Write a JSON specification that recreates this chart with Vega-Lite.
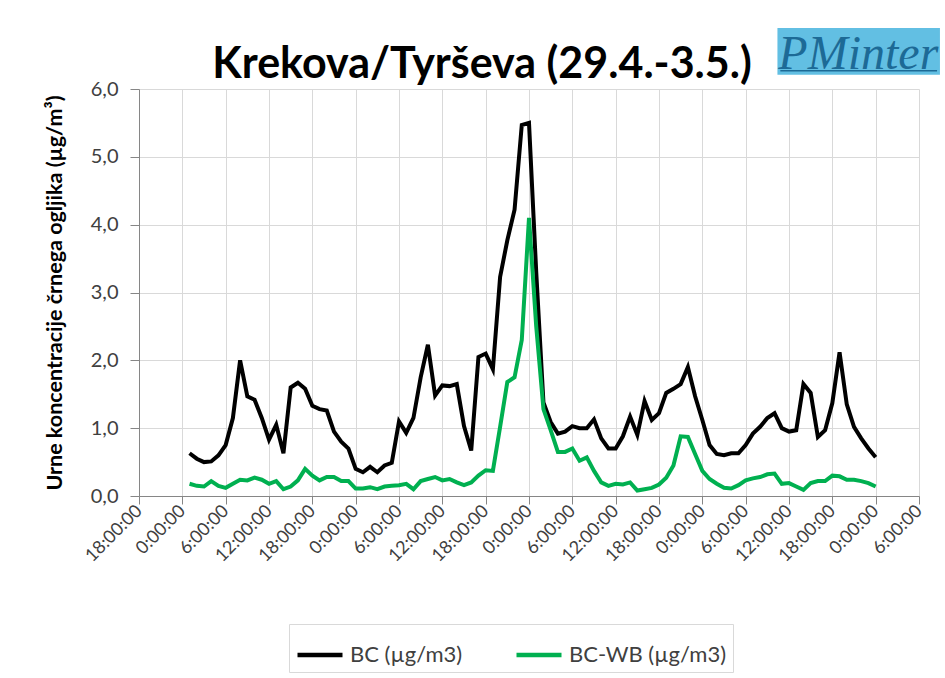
{
  "$schema": "https://vega.github.io/schema/vega-lite/v6.json",
  "width": 780,
  "height": 407,
  "autosize": {"type": "none"},
  "padding": {"left": 139, "top": 89, "right": 26, "bottom": 182},
  "background": "white",
  "title": {"text": "Krekova/Tyrševa (29.4.-3.5.)", "font": "Lato", "fontSize": 43, "fontWeight": "bold", "color": "#000000", "anchor": "middle", "dx": -47, "dy": 64, "offset": 5},
  "config": {"view": {"stroke": null}},
  "layer": [
    {
      "data": {"values": [
        {"h": 1, "BC": 0.63, "WB": 0.18}, {"h": 2, "BC": 0.55, "WB": 0.15}, {"h": 3, "BC": 0.50, "WB": 0.14},
        {"h": 4, "BC": 0.51, "WB": 0.22}, {"h": 5, "BC": 0.60, "WB": 0.15}, {"h": 6, "BC": 0.75, "WB": 0.12},
        {"h": 7, "BC": 1.15, "WB": 0.18}, {"h": 8, "BC": 2.00, "WB": 0.24}, {"h": 9, "BC": 1.47, "WB": 0.23},
        {"h": 10, "BC": 1.42, "WB": 0.27}, {"h": 11, "BC": 1.15, "WB": 0.24}, {"h": 12, "BC": 0.83, "WB": 0.18},
        {"h": 13, "BC": 1.05, "WB": 0.22}, {"h": 14, "BC": 0.63, "WB": 0.10}, {"h": 15, "BC": 1.60, "WB": 0.14},
        {"h": 16, "BC": 1.67, "WB": 0.23}, {"h": 17, "BC": 1.58, "WB": 0.40}, {"h": 18, "BC": 1.33, "WB": 0.30},
        {"h": 19, "BC": 1.28, "WB": 0.23}, {"h": 20, "BC": 1.26, "WB": 0.28}, {"h": 21, "BC": 0.95, "WB": 0.28},
        {"h": 22, "BC": 0.80, "WB": 0.22}, {"h": 23, "BC": 0.70, "WB": 0.22}, {"h": 24, "BC": 0.40, "WB": 0.11},
        {"h": 25, "BC": 0.35, "WB": 0.11}, {"h": 26, "BC": 0.43, "WB": 0.13}, {"h": 27, "BC": 0.35, "WB": 0.10},
        {"h": 28, "BC": 0.45, "WB": 0.14}, {"h": 29, "BC": 0.49, "WB": 0.15}, {"h": 30, "BC": 1.10, "WB": 0.16},
        {"h": 31, "BC": 0.93, "WB": 0.18}, {"h": 32, "BC": 1.15, "WB": 0.10}, {"h": 33, "BC": 1.75, "WB": 0.22},
        {"h": 34, "BC": 2.23, "WB": 0.25}, {"h": 35, "BC": 1.48, "WB": 0.28}, {"h": 36, "BC": 1.63, "WB": 0.23},
        {"h": 37, "BC": 1.62, "WB": 0.25}, {"h": 38, "BC": 1.65, "WB": 0.20}, {"h": 39, "BC": 1.03, "WB": 0.16},
        {"h": 40, "BC": 0.67, "WB": 0.20}, {"h": 41, "BC": 2.05, "WB": 0.30}, {"h": 42, "BC": 2.10, "WB": 0.38},
        {"h": 43, "BC": 1.87, "WB": 0.37}, {"h": 44, "BC": 3.23, "WB": 1.02}, {"h": 45, "BC": 3.77, "WB": 1.68},
        {"h": 46, "BC": 4.22, "WB": 1.75}, {"h": 47, "BC": 5.47, "WB": 2.30}, {"h": 48, "BC": 5.50, "WB": 4.10},
        {"h": 49, "BC": 3.30, "WB": 2.50}, {"h": 50, "BC": 1.38, "WB": 1.28}, {"h": 51, "BC": 1.09, "WB": 0.97},
        {"h": 52, "BC": 0.92, "WB": 0.65}, {"h": 53, "BC": 0.95, "WB": 0.65}, {"h": 54, "BC": 1.03, "WB": 0.70},
        {"h": 55, "BC": 1.00, "WB": 0.52}, {"h": 56, "BC": 1.00, "WB": 0.57}, {"h": 57, "BC": 1.13, "WB": 0.37},
        {"h": 58, "BC": 0.85, "WB": 0.20}, {"h": 59, "BC": 0.70, "WB": 0.15}, {"h": 60, "BC": 0.70, "WB": 0.18},
        {"h": 61, "BC": 0.88, "WB": 0.17}, {"h": 62, "BC": 1.17, "WB": 0.20}, {"h": 63, "BC": 0.90, "WB": 0.08},
        {"h": 64, "BC": 1.40, "WB": 0.10}, {"h": 65, "BC": 1.12, "WB": 0.12}, {"h": 66, "BC": 1.22, "WB": 0.17},
        {"h": 67, "BC": 1.52, "WB": 0.27}, {"h": 68, "BC": 1.58, "WB": 0.45}, {"h": 69, "BC": 1.65, "WB": 0.88},
        {"h": 70, "BC": 1.90, "WB": 0.87}, {"h": 71, "BC": 1.47, "WB": 0.62}, {"h": 72, "BC": 1.12, "WB": 0.37},
        {"h": 73, "BC": 0.75, "WB": 0.25}, {"h": 74, "BC": 0.62, "WB": 0.18}, {"h": 75, "BC": 0.60, "WB": 0.12},
        {"h": 76, "BC": 0.63, "WB": 0.11}, {"h": 77, "BC": 0.63, "WB": 0.16}, {"h": 78, "BC": 0.75, "WB": 0.23},
        {"h": 79, "BC": 0.92, "WB": 0.26}, {"h": 80, "BC": 1.02, "WB": 0.28}, {"h": 81, "BC": 1.15, "WB": 0.32},
        {"h": 82, "BC": 1.22, "WB": 0.33}, {"h": 83, "BC": 1.00, "WB": 0.18}, {"h": 84, "BC": 0.95, "WB": 0.19},
        {"h": 85, "BC": 0.97, "WB": 0.14}, {"h": 86, "BC": 1.65, "WB": 0.09}, {"h": 87, "BC": 1.52, "WB": 0.19},
        {"h": 88, "BC": 0.87, "WB": 0.22}, {"h": 89, "BC": 0.97, "WB": 0.22}, {"h": 90, "BC": 1.37, "WB": 0.30},
        {"h": 91, "BC": 2.12, "WB": 0.29}, {"h": 92, "BC": 1.35, "WB": 0.24}, {"h": 93, "BC": 1.02, "WB": 0.24},
        {"h": 94, "BC": 0.85, "WB": 0.22}, {"h": 95, "BC": 0.70, "WB": 0.19}, {"h": 96, "BC": 0.57, "WB": 0.14}
      ]},
      "transform": [{"fold": ["BC", "WB"], "as": ["series", "value"]}],
      "mark": {"type": "line", "strokeWidth": 4},
      "encoding": {
        "x": {
          "field": "h", "type": "quantitative",
          "scale": {"domain": [-6, 102], "nice": false, "zero": false},
          "axis": {
            "title": null,
            "values": [-6, 0, 6, 12, 18, 24, 30, 36, 42, 48, 54, 60, 66, 72, 78, 84, 90, 96, 102],
            "labelExpr": "(((datum.value % 24) + 24) % 24) + ':00:00'",
            "labelAngle": -45, "labelAlign": "right", "labelBaseline": "middle", "labelFlush": false, "labelOverlap": false,
            "labelFont": "Lato", "labelFontSize": 18, "labelColor": "#404040", "labelPadding": 4,
            "grid": true, "gridColor": "#d9d9d9", "gridWidth": 1, "tickSize": 8, "tickColor": "#868686", "domainColor": "#868686"
          }
        },
        "y": {
          "field": "value", "type": "quantitative",
          "scale": {"domain": [0, 6], "nice": false},
          "axis": {
            "values": [0, 1, 2, 3, 4, 5, 6],
            "labelExpr": "datum.value + ',0'",
            "labelFont": "Lato", "labelFontSize": 20, "labelColor": "#404040", "labelPadding": 12,
            "title": "Urne koncentracije črnega ogljika (µg/m³)", "titleFont": "Lato", "titleFontSize": 21.5, "titleFontWeight": "bold", "titleColor": "#000000", "titlePadding": 24,
            "grid": true, "gridColor": "#d9d9d9", "gridWidth": 1, "tickSize": 9, "tickColor": "#868686", "domainColor": "#868686"
          }
        },
        "color": {
          "field": "series", "type": "nominal",
          "scale": {"domain": ["BC", "WB"], "range": ["#000000", "#00b050"]},
          "legend": {
            "title": null, "orient": "none", "legendX": 150, "legendY": 535, "direction": "horizontal",
            "labelExpr": "datum.label == 'WB' ? 'BC-WB (µg/m3)' : 'BC (µg/m3)'",
            "symbolType": "stroke", "symbolStrokeWidth": 4.5, "symbolSize": 2025,
            "labelFont": "Lato", "labelFontSize": 22, "labelColor": "#404040", "labelOffset": 5,
            "strokeColor": "#d9d9d9", "padding": 6, "columnPadding": 44
          }
        }
      }
    },
    {
      "data": {"values": [{"logo": "PMinter"}]},
      "mark": {"type": "rect", "color": "#62bfe3"},
      "encoding": {
        "x": {"datum": 82.4, "type": "quantitative"},
        "x2": {"datum": 104.9},
        "y": {"datum": 6.21, "type": "quantitative"},
        "y2": {"datum": 6.9}
      }
    },
    {
      "data": {"values": [{"logo": "PMinter"}]},
      "mark": {"type": "rule", "color": "#1d6a96", "strokeWidth": 1.5},
      "encoding": {
        "x": {"datum": 82.8, "type": "quantitative"},
        "x2": {"datum": 104.5},
        "y": {"datum": 6.27, "type": "quantitative"}
      }
    },
    {
      "data": {"values": [{"logo": "PMinter"}]},
      "mark": {"type": "text", "font": "Liberation Serif", "fontStyle": "italic", "fontSize": 48, "color": "#1d6a96", "align": "center", "baseline": "alphabetic"},
      "encoding": {
        "x": {"datum": 93.6, "type": "quantitative"},
        "y": {"datum": 6.3, "type": "quantitative"},
        "text": {"field": "logo"}
      }
    }
  ]
}
